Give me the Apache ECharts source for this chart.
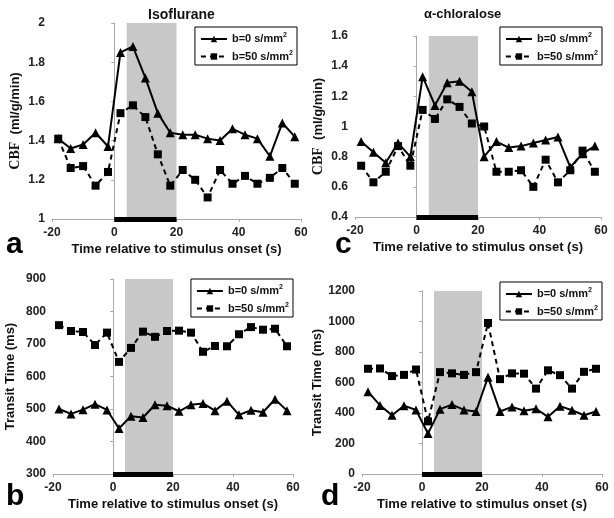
<!DOCTYPE html>
<html>
<head>
<meta charset="utf-8">
<script src="https://cdn.jsdelivr.net/npm/echarts@6/dist/echarts.min.js"></script>
<style>
  body { margin: 0; background: #fff; }
  #chart { width: 614px; height: 518px; }
</style>
</head>
<body>
<div id="chart"></div>
<script>
// time points (s)
var times = [-18, -14, -10, -6, -2, 2, 6, 10, 14, 18, 22, 26, 30, 34, 38, 42, 46, 50, 54, 58];

// a: CBF isoflurane
var isoCbf0 = [1.41, 1.36, 1.38, 1.44, 1.37, 1.85, 1.88, 1.72, 1.54, 1.44, 1.43, 1.43, 1.41, 1.40, 1.46, 1.43, 1.41, 1.32, 1.49, 1.42];
var isoCbf50 = [1.41, 1.26, 1.27, 1.17, 1.24, 1.54, 1.58, 1.52, 1.33, 1.17, 1.25, 1.20, 1.11, 1.25, 1.18, 1.22, 1.18, 1.21, 1.26, 1.18];
// c: CBF alpha-chloralose
var chlCbf0 = [0.90, 0.83, 0.76, 0.89, 0.80, 1.33, 1.14, 1.29, 1.30, 1.23, 0.80, 0.90, 0.86, 0.87, 0.89, 0.91, 0.93, 0.73, 0.82, 0.87];
var chlCbf50 = [0.74, 0.63, 0.70, 0.87, 0.74, 1.11, 1.05, 1.18, 1.13, 1.02, 1.00, 0.70, 0.70, 0.71, 0.60, 0.78, 0.63, 0.71, 0.84, 0.70];
// b: transit time isoflurane
var isoTt0 = [500, 485, 498, 515, 497, 440, 478, 474, 513, 510, 493, 513, 517, 495, 524, 482, 496, 490, 530, 495];
var isoTt50 = [758, 740, 737, 697, 735, 645, 688, 738, 722, 740, 741, 735, 676, 694, 693, 730, 752, 744, 747, 693];
// d: transit time alpha-chloralose
var chlTt0 = [540, 450, 385, 448, 420, 265, 425, 455, 420, 410, 635, 410, 440, 415, 428, 375, 445, 418, 385, 410];
var chlTt50 = [690, 692, 642, 650, 685, 345, 668, 660, 650, 668, 990, 622, 660, 658, 560, 680, 648, 560, 670, 690];

var seriesNames = ['b=0', 'b=50'];
var stimShade = [4, 20];
var stimBar = [0, 20];

var font = 'Liberation Sans, Arial, sans-serif';

function pairs(ys) {
  return times.map(function (t, i) { return [t, ys[i]]; });
}

var grids = [
  { left: 52, top: 23, width: 249, height: 196 },
  { left: 53, top: 279, width: 240, height: 195 },
  { left: 355, top: 36, width: 246, height: 181 },
  { left: 362, top: 291, width: 240, height: 183 }
];
var yRanges = [[1, 2, 0.2], [300, 900, 100], [0.4, 1.6, 0.2], [0, 1200, 200]];
var yNames = ['{s|CBF}  (ml/g/min)', 'Transit Time (ms)', '{s|CBF}  (ml/g/min)', 'Transit Time (ms)'];
var panelData = [[isoCbf0, isoCbf50], [isoTt0, isoTt50], [chlCbf0, chlCbf50], [chlTt0, chlTt50]];
var legendPos = [[317, 27], [321, 279], [12, 27], [12, 282]];

var xAxes = [], yAxes = [], series = [], legends = [];
grids.forEach(function (g, k) {
  xAxes.push({
    gridIndex: k, type: 'value', min: -20, max: 60, interval: 20,
    name: 'Time relative to stimulus onset (s)', nameLocation: 'middle', nameGap: 24,
    nameTextStyle: { fontFamily: font, fontWeight: 'bold', fontSize: 13, color: '#111' },
    axisLine: { lineStyle: { color: '#aaa' } },
    axisTick: { show: true, length: 3, lineStyle: { color: '#aaa' } },
    axisLabel: { fontFamily: font, fontWeight: 'bold', fontSize: 12, color: '#222', margin: 8 },
    splitLine: { show: false }
  });
  yAxes.push({
    gridIndex: k, type: 'value', min: yRanges[k][0], max: yRanges[k][1], interval: yRanges[k][2],
    name: yNames[k], nameLocation: 'middle', nameGap: k % 2 === 0 ? 30 : 36,
    nameTextStyle: {
      fontFamily: font, fontWeight: 'bold', fontSize: 13, color: '#111',
      rich: { s: { fontFamily: 'Liberation Serif, Times New Roman, serif', fontSize: 14, color: '#111' } }
    },
    axisLine: { show: true, lineStyle: { color: '#aaa' } },
    axisTick: { show: true, length: 3, lineStyle: { color: '#aaa' } },
    axisLabel: {
      fontFamily: font, fontWeight: 'bold', fontSize: 12, color: '#222', margin: 7,
      formatter: function (v) { return String(+v.toFixed(2)); }
    },
    splitLine: { show: false }
  });
  var ymin = yRanges[k][0];
  series.push({
    name: seriesNames[0], type: 'line', xAxisIndex: k, yAxisIndex: k,
    data: pairs(panelData[k][0]),
    symbol: 'triangle', symbolSize: 9,
    lineStyle: { color: '#000', width: 2 },
    itemStyle: { color: '#000' },
    z: 4,
    markArea: {
      silent: true,
      itemStyle: { color: '#c8c8c8' },
      data: [[{ xAxis: stimShade[0] }, { xAxis: stimShade[1] }]]
    },
    markLine: {
      silent: true, symbol: 'none', label: { show: false },
      lineStyle: { color: '#000', width: 5, type: 'solid' },
      data: [[{ coord: [stimBar[0], ymin] }, { coord: [stimBar[1], ymin] }]]
    }
  });
  series.push({
    name: seriesNames[1], type: 'line', xAxisIndex: k, yAxisIndex: k,
    data: pairs(panelData[k][1]),
    symbol: 'rect', symbolSize: 8,
    lineStyle: { color: '#000', width: 2, type: [5, 4] },
    itemStyle: { color: '#000' },
    z: 3
  });
  legends.push({
    data: seriesNames, orient: 'vertical', right: legendPos[k][0], top: legendPos[k][1],
    itemWidth: 26, itemHeight: 8, itemGap: 5,
    padding: [5, 4, 3, 5],
    borderColor: '#000', borderWidth: 1, backgroundColor: '#fff',
    selectedMode: false,
    formatter: function (name) { return '{t|' + name + ' s/mm}{sup|2}'; },
    textStyle: {
      rich: {
        t: { fontFamily: font, fontWeight: 'bold', fontSize: 11, color: '#111' },
        sup: { fontFamily: font, fontWeight: 'bold', fontSize: 7, color: '#111', padding: [0, 0, 7, 0] }
      }
    }
  });
});

var option = {
  animation: false,
  title: [
    { text: 'Isoflurane', left: 143, top: 3, textStyle: { fontFamily: font, fontWeight: 'bold', fontSize: 14, color: '#111' } },
    { text: 'α-chloralose', left: 419, top: 3, textStyle: { fontFamily: font, fontWeight: 'bold', fontSize: 13, color: '#111' } },
    { text: 'a', left: 1, top: 225, textStyle: { fontFamily: font, fontWeight: 'bold', fontSize: 30, color: '#000' } },
    { text: 'b', left: 1, top: 477, textStyle: { fontFamily: font, fontWeight: 'bold', fontSize: 30, color: '#000' } },
    { text: 'c', left: 330, top: 225, textStyle: { fontFamily: font, fontWeight: 'bold', fontSize: 30, color: '#000' } },
    { text: 'd', left: 316, top: 477, textStyle: { fontFamily: font, fontWeight: 'bold', fontSize: 30, color: '#000' } }
  ],
  legend: legends,
  grid: grids,
  xAxis: xAxes,
  yAxis: yAxes,
  series: series
};

var myChart = echarts.init(document.getElementById('chart'));
myChart.setOption(option);
</script>
</body>
</html>
